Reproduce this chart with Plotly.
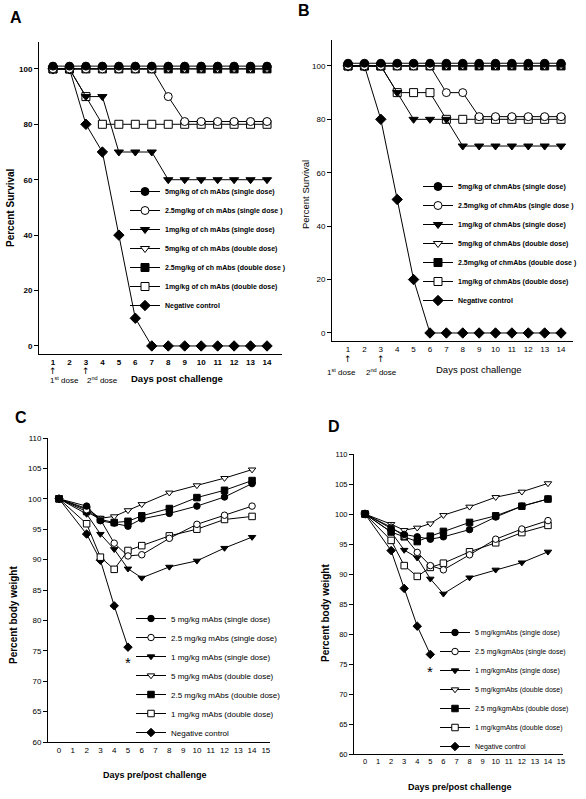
import plotly.graph_objects as go

# figure fills the 586x799 window (body margin removed in post_script)
OX, OY = 0, 0
FW, FH = 586, 799
FONT = "Liberation Sans"

# ---------------- data ----------------
days_surv = list(range(1, 15))

names_A = ["5mg/kg of ch mAbs (single dose)", "2.5mg/kg of ch mAbs (single dose )",
           "1mg/kg of ch mAbs (single dose)", "5mg/kg of ch mAbs (double dose)",
           "2.5mg/kg of ch mAbs (double dose )", "1mg/kg of ch mAbs (double dose)",
           "Negative control"]
a_5s = [101, 101, 101, 101, 101, 101, 101, 101, 101, 101, 101, 101, 101, 101]
a_25s = [100, 100, 100, 100, 100, 100, 100, 90, 81, 81, 81, 81, 81, 81]
a_1s = [100, 100, 90, 90, 70, 70, 70, 60, 60, 60, 60, 60, 60, 60]
a_5d = [100, 100, 100, 100, 100, 100, 100, 100, 100, 100, 100, 100, 100, 100]
a_25d = [100, 100, 100, 100, 100, 100, 100, 100, 100, 100, 100, 100, 100, 100]
a_1d = [100, 100, 90, 80, 80, 80, 80, 80, 80, 80, 80, 80, 80, 80]
a_neg = [100, 100, 80, 70, 40, 10, 0, 0, 0, 0, 0, 0, 0, 0]

names_B = ["5mg/kg of chmAbs (single dose)", "2.5mg/kg of chmAbs (single dose )",
           "1mg/kg of chmAbs (single dose)", "5mg/kg of chmAbs (double dose)",
           "2.5mg/kg of chmAbs (double dose )", "1mg/kg of chmAbs (double dose)",
           "Negative control"]
b_5s = [101, 101, 101, 101, 101, 101, 101, 101, 101, 101, 101, 101, 101, 101]
b_25s = [100, 100, 100, 100, 100, 100, 90, 90, 81, 81, 81, 81, 81, 81]
b_1s = [100, 100, 100, 90, 80, 80, 80, 70, 70, 70, 70, 70, 70, 70]
b_5d = [100, 100, 100, 100, 100, 100, 100, 100, 100, 100, 100, 100, 100, 100]
b_25d = [100, 100, 100, 100, 100, 100, 100, 100, 100, 100, 100, 100, 100, 100]
b_1d = [100, 100, 100, 90, 90, 90, 80, 80, 80, 80, 80, 80, 80, 80]
b_neg = [100, 100, 80, 50, 20, 0, 0, 0, 0, 0, 0, 0, 0, 0]

days_bw = [0, 2, 3, 4, 5, 6, 8, 10, 12, 14]
days_bw_neg = [0, 2, 3, 4, 5]

names_C = ["5 mg/kg mAbs (single dose)", "2.5 mg/kg mAbs (single dose)",
           "1 mg/kg mAbs (single dose)", "5 mg/kg mAbs (double dose)",
           "2.5 mg/kg mAbs (double dose)", "1 mg/kg mAbs (double dose)",
           "Negative control"]
c_5s = [100, 98.8, 96.4, 96.0, 95.5, 96.7, 97.6, 98.8, 100.3, 102.5]
c_25s = [100, 98.2, 96.6, 92.7, 90.6, 90.8, 93.5, 95.8, 97.3, 98.8]
c_1s = [100, 97.5, 94.2, 91.7, 88.5, 87.0, 88.8, 89.8, 91.9, 93.7]
c_5d = [100, 98.4, 96.8, 97.1, 98.1, 99.1, 101.0, 102.2, 103.4, 104.8]
c_25d = [100, 97.9, 96.6, 96.1, 96.3, 97.2, 98.4, 100.2, 101.4, 103.0]
c_1d = [100, 95.9, 90.4, 88.4, 91.5, 92.3, 93.9, 95.0, 96.6, 97.1]
c_neg = [100, 94.2, 89.9, 82.4, 75.6]

names_D = ["5 mg/kgmAbs (single dose)", "2.5 mg/kgmAbs (single dose)",
           "1 mg/kgmAbs (single dose)", "5 mg/kgmAbs (double dose)",
           "2.5 mg/kgmAbs (double dose)", "1 mg/kgmAbs (double dose)",
           "Negative control"]
d_5s = [100, 97.6, 96.6, 96.2, 95.8, 96.2, 97.4, 99.5, 101.3, 102.5]
d_25s = [100, 97.8, 96.3, 93.6, 91.4, 90.7, 93.2, 95.8, 97.5, 98.9]
d_1s = [100, 97.0, 94.0, 92.7, 89.2, 86.7, 89.4, 90.7, 91.9, 93.7]
d_5d = [100, 98.3, 97.3, 97.7, 98.4, 99.8, 101.2, 102.8, 103.7, 105.1]
d_25d = [100, 97.0, 96.2, 95.4, 96.3, 97.1, 98.6, 99.7, 101.3, 102.5]
d_1d = [100, 95.6, 91.4, 89.6, 91.1, 91.8, 93.7, 95.2, 96.9, 98.1]
d_neg = [100, 93.9, 87.6, 81.3, 76.6]

surv_ticks = [0, 20, 40, 60, 80, 100]
bw_ticks = [60, 65, 70, 75, 80, 85, 90, 95, 100, 105, 110]
bw_xticks = list(range(0, 16))

# ---------------- styling ----------------
SYMBOLS = ["circle", "circle", "triangle-down", "triangle-down", "square", "square", "diamond"]
FILLS = ["black", "white", "black", "white", "black", "white", "black"]


def px(x):
    return (x - OX) / FW


def py(y):
    return 1 - (y - OY) / FH


fig = go.Figure()


def add_panel(xs, ys_list, names, xa, ya, leg, msize):
    for i in reversed(range(7)):
        x = xs[1] if (i == 6 and len(xs) == 2) else xs[0]
        fig.add_trace(go.Scatter(
            x=x, y=ys_list[i], name=names[i], mode="lines+markers",
            xaxis=xa, yaxis=ya, legend=leg,
            line=dict(color="black", width=1),
            marker=dict(symbol=SYMBOLS[i], size=msize, color=FILLS[i],
                        line=dict(color="black", width=1)),
            cliponaxis=False,
        ))


add_panel([days_surv], [a_5s, a_25s, a_1s, a_5d, a_25d, a_1d, a_neg], names_A, "x", "y", "legend", 8)
add_panel([days_surv], [b_5s, b_25s, b_1s, b_5d, b_25d, b_1d, b_neg], names_B, "x2", "y2", "legend2", 8)
add_panel([days_bw, days_bw_neg], [c_5s, c_25s, c_1s, c_5d, c_25d, c_1d, c_neg], names_C, "x3", "y3", "legend3", 6.5)
add_panel([days_bw, days_bw_neg], [d_5s, d_25s, d_1s, d_5d, d_25d, d_1d, d_neg], names_D, "x4", "y4", "legend4", 6.5)


def xax(dom, rng, tickvals, fs, anchor, bold=False):
    return dict(domain=dom, range=rng, tickvals=tickvals, ticks="", showline=True,
                linecolor="black", linewidth=1, showgrid=False, zeroline=False,
                tickfont=dict(family=FONT, size=fs, color="black",
                              weight="bold" if bold else "normal"),
                anchor=anchor, automargin=False)


def yax(dom, rng, tickvals, fs, anchor, bold=False):
    return dict(domain=dom, range=rng, tickvals=tickvals, ticks="outside", ticklen=4,
                tickcolor="black", showline=True, linecolor="black", linewidth=1,
                showgrid=False, zeroline=False,
                tickfont=dict(family=FONT, size=fs, color="black",
                              weight="bold" if bold else "normal"),
                anchor=anchor, automargin=False)


def leg(x, y, fs, bold=False):
    return dict(x=px(x), y=py(y), xanchor="left", yanchor="top",
                font=dict(family=FONT, size=fs, color="black",
                          weight="bold" if bold else "normal"),
                bgcolor="rgba(0,0,0,0)", traceorder="reversed", itemwidth=30)


fig.update_layout(
    width=FW, height=FH, margin=dict(l=0, r=0, t=0, b=0),
    paper_bgcolor="white", plot_bgcolor="white", showlegend=True,
    xaxis=xax([px(39), px(282)], [0.15, 14.91], days_surv, 8, "y", True),
    yaxis=yax([py(354), py(42)], [-2.9, 109.7], surv_ticks, 8, "x", True),
    xaxis2=xax([px(332), px(573)], [0.02, 14.73], days_surv, 8, "y2"),
    yaxis2=yax([py(341), py(40)], [-3.0, 109.7], surv_ticks, 8, "x2"),
    xaxis3=xax([px(48), px(270)], [-0.8, 15.3], bw_xticks, 8, "y3"),
    yaxis3=yax([py(742), py(438)], [60, 110], bw_ticks, 8, "x3"),
    xaxis4=xax([px(354), px(563)], [-0.84, 15.15], bw_xticks, 7.5, "y4"),
    yaxis4=yax([py(754), py(454)], [60, 110], bw_ticks, 7.5, "x4"),
    legend=leg(125, 177, 7, True),
    legend2=leg(418, 172, 7, True),
    legend3=leg(131, 604, 8),
    legend4=leg(435, 618, 7),
)

ann = []


def text(x, y, s, size, bold=False, angle=0, xanchor="center"):
    ann.append(dict(x=px(x), y=py(y), xref="paper", yref="paper", text=("<b>%s</b>" % s) if bold else s,
                    showarrow=False, textangle=angle, xanchor=xanchor, yanchor="middle",
                    font=dict(family=FONT, size=size, color="black")))


# panel labels
text(16, 17, "A", 16, True)
text(304, 11, "B", 16, True)
text(21, 417, "C", 16, True)
text(334, 426, "D", 16, True)

# axis titles
text(10, 208, "Percent Survival", 10, True, -90)
text(177, 378, "Days post challenge", 9.5, True)
text(306, 195, "Percent Survival", 9.5, False, -90)
text(479, 369, "Days post challenge", 9.5, False)
text(13, 615, "Percent body weight", 10, True, -90)
text(155, 775, "Days pre/post challenge", 9, True)
text(325, 613, "Percent body weight", 10, True, -90)
text(460, 787, "Days pre/post challenge", 9, True)

# dose annotations
text(64, 380, "1<sup>st</sup> dose", 8)
text(102, 380, "2<sup>nd</sup> dose", 8)
text(341, 372, "1<sup>st</sup> dose", 8)
text(381, 372, "2<sup>nd</sup> dose", 8)
for xa, xv, yc in [("x", 1, 371), ("x", 3, 371), ("x2", 1, 359), ("x2", 3, 359)]:
    ann.append(dict(x=xv, y=py(yc), xref=xa, yref="paper", text="\u2191", showarrow=False,
                    xanchor="center", yanchor="middle",
                    font=dict(family="DejaVu Sans", size=9, color="black")))

# asterisks
ann.append(dict(x=5, y=73.0, xref="x3", yref="y3", text="*", showarrow=False,
                font=dict(family=FONT, size=15, color="black")))
ann.append(dict(x=5, y=73.8, xref="x4", yref="y4", text="*", showarrow=False,
                font=dict(family=FONT, size=15, color="black")))

fig.update_layout(annotations=ann)
fig.write_html("out.html", config={"displayModeBar": False},
               post_script="document.body.style.margin='0px';")
